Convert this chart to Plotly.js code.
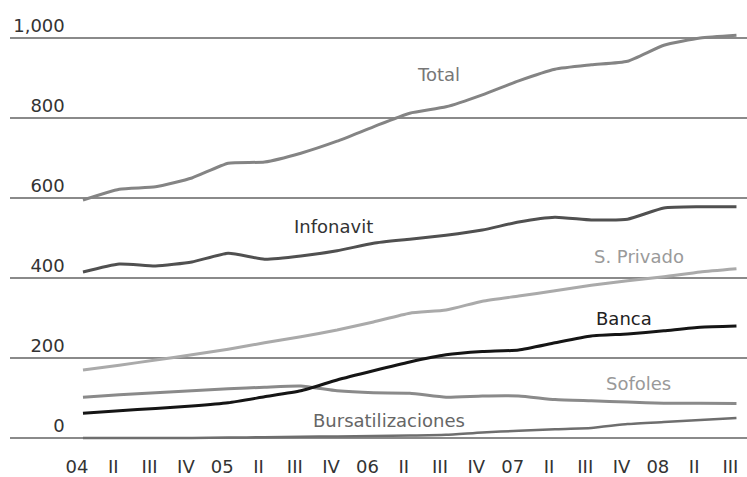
<!DOCTYPE html>
<html>
<head>
<meta charset="utf-8">
<script src="https://cdn.plot.ly/plotly-3.0.1.min.js"></script>
<style>html,body{margin:0;padding:0;background:#fff;}#chart{width:747px;height:477px;}</style>
</head>
<body>
<div id="chart"></div>
<script>
const quarters = ["04","II","III","IV","05","II","III","IV","06","II","III","IV","07","II","III","IV","08","II","III"];
const total = [595, 622, 628, 650, 687, 690, 712, 742, 778, 812, 828, 858, 893, 922, 933, 942, 982, 1000, 1007];
const infonavit = [415, 435, 430, 440, 462, 447, 455, 468, 487, 497, 507, 520, 540, 552, 545, 547, 575, 578, 578];
const sPrivado = [170, 182, 195, 208, 222, 238, 253, 270, 290, 312, 320, 342, 355, 368, 382, 393, 403, 415, 423];
const banca = [62, 68, 74, 80, 88, 103, 118, 145, 168, 190, 208, 216, 220, 238, 255, 260, 268, 277, 280];
const sofoles = [102, 108, 113, 118, 123, 127, 130, 118, 113, 112, 102, 105, 105, 96, 93, 90, 87, 87, 86];
const bursa = [0, 0, 0, 0, 1, 2, 3, 4, 5, 6, 8, 14, 18, 22, 25, 35, 40, 45, 50];
const yTicks = [0, 200, 400, 600, 800, 1000];
const yTickText = ["0", "200", "400", "600", "800", "1,000"];

const xIdx = quarters.map((_, i) => i);
const FONT = "DejaVu Sans, Verdana, sans-serif";

function series(name, y, color, width) {
  return {x: xIdx, y: y, name: name, type: "scatter", mode: "lines",
    line: {color: color, width: width, shape: "spline", smoothing: 0.5},
    hoverinfo: "skip"};
}

const data = [
  series("Bursatilizaciones", bursa, "#6e6e6e", 2.5),
  series("Sofoles", sofoles, "#8a8a8a", 3),
  series("S. Privado", sPrivado, "#aaaaaa", 3),
  series("Total", total, "#848484", 3),
  series("Infonavit", infonavit, "#505050", 3),
  series("Banca", banca, "#151515", 3)
];

function lab(text, x, y, color) {
  return {text: text, x: x, y: y, xref: "x", yref: "y", showarrow: false,
    font: {family: FONT, size: 18, color: color}, xanchor: "center", yanchor: "middle"};
}

const layout = {
  width: 747, height: 477,
  margin: {l: 10, r: 0, t: 20, b: 31},
  paper_bgcolor: "#fff", plot_bgcolor: "#fff",
  showlegend: false,
  xaxis: {
    range: [-2.01, 18.29], tickvals: xIdx, ticktext: quarters,
    showgrid: false, zeroline: false, showline: false, ticks: "",
    tickfont: {family: FONT, size: 18, color: "#333"},
    ticklabelshift: -6, ticklabelstandoff: 8
  },
  yaxis: {
    range: [-20, 1045], tickvals: yTicks, ticktext: yTickText,
    anchor: "free", position: 0.077, side: "left",
    showgrid: true, gridcolor: "#8a8a8a", gridwidth: 2,
    zeroline: false, showline: false, ticks: "",
    tickfont: {family: FONT, size: 18, color: "#333"},
    ticklabelshift: -12, ticklabelstandoff: 2
  },
  annotations: [
    lab("Total", 9.78, 910, "#777"),
    lab("Infonavit", 6.91, 530, "#333"),
    lab("S. Privado", 15.32, 455, "#9a9a9a"),
    lab("Banca", 14.9, 300, "#222"),
    lab("Sofoles", 15.29, 137, "#999"),
    lab("Bursatilizaciones", 8.43, 45, "#666")
  ]
};

Plotly.newPlot("chart", data, layout, {staticPlot: true, displayModeBar: false});
</script>
</body>
</html>
